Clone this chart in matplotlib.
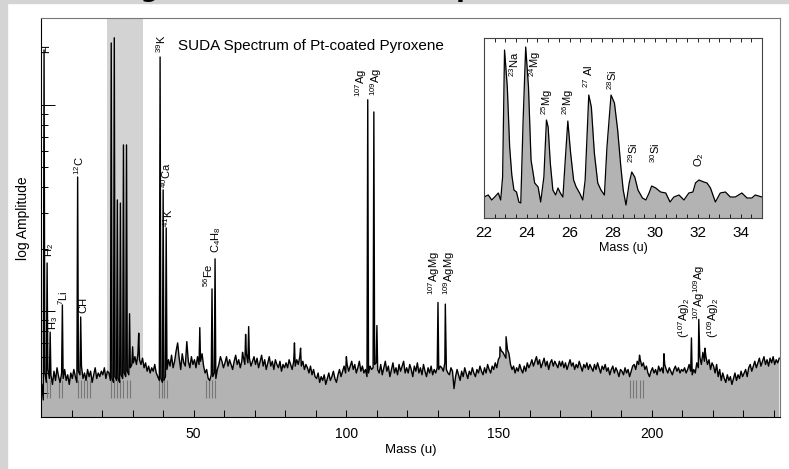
import numpy as np
import matplotlib
matplotlib.use("Agg")
import matplotlib.pyplot as plt
from matplotlib.patches import Rectangle

plt.rcParams['font.family'] = ['Liberation Sans', 'DejaVu Sans']
plt.rcParams['mathtext.fontset'] = 'custom'
plt.rcParams['mathtext.default'] = 'regular'

# noise floor of the spectrum, sampled every 0.5 u starting at 0.25 u
noise_mass = np.arange(0.25, 242.0, 0.5)
noise_amp = [
    0.44, 0.37, 0.50, 0.45, 0.52, 0.47, 0.49, 0.44, 0.51, 0.46, 0.53, 0.48, 0.45, 0.50, 0.47, 0.52, 0.46, 0.49, 0.44, 0.50,
    0.47, 0.52, 0.48, 0.45, 0.51, 0.49, 0.54, 0.47, 0.50, 0.46, 0.52, 0.48, 0.51, 0.45, 0.49, 0.53, 0.47, 0.50, 0.48, 0.51,
    0.49, 0.53, 0.47, 0.51, 0.50, 0.46, 0.47, 0.45, 0.48, 0.46, 0.47, 0.45, 0.49, 0.47, 0.50, 0.48, 0.51, 0.49, 0.53, 0.55,
    0.56, 0.60, 0.55, 0.62, 0.58, 0.55, 0.59, 0.53, 0.56, 0.51, 0.54, 0.50, 0.53, 0.51, 0.55, 0.50, 0.48, 0.46, 0.47, 0.45,
    0.46, 0.48, 0.52, 0.58, 0.54, 0.61, 0.53, 0.57, 0.64, 0.70, 0.59, 0.52, 0.62, 0.56, 0.54, 0.71, 0.57, 0.53, 0.60, 0.55,
    0.58, 0.53, 0.60, 0.55, 0.57, 0.62, 0.54, 0.50, 0.52, 0.47, 0.46, 0.49, 0.48, 0.50, 0.47, 0.52, 0.55, 0.60, 0.57, 0.53,
    0.56, 0.60, 0.54, 0.58, 0.55, 0.52, 0.57, 0.61, 0.55, 0.58, 0.53, 0.57, 0.60, 0.55, 0.62, 0.56, 0.59, 0.54, 0.57, 0.60,
    0.55, 0.59, 0.53, 0.57, 0.61, 0.54, 0.58, 0.52, 0.56, 0.60, 0.54, 0.57, 0.52, 0.58, 0.55, 0.53, 0.57, 0.51, 0.55, 0.53,
    0.56, 0.53, 0.58, 0.55, 0.52, 0.57, 0.54, 0.58, 0.55, 0.60, 0.54, 0.57, 0.52, 0.55, 0.53, 0.50, 0.54, 0.49, 0.52, 0.48,
    0.47, 0.50, 0.45, 0.48, 0.46, 0.49, 0.44, 0.47, 0.50, 0.46, 0.48, 0.51, 0.47, 0.45, 0.49, 0.52, 0.48, 0.51, 0.54, 0.50,
    0.55, 0.51, 0.54, 0.57, 0.52, 0.55, 0.50, 0.53, 0.57, 0.51, 0.54, 0.50, 0.52, 0.48, 0.50, 0.54, 0.52, 0.53, 0.55, 0.56,
    0.52, 0.50, 0.55, 0.49, 0.53, 0.57, 0.51, 0.54, 0.48, 0.52, 0.56, 0.50, 0.53, 0.49, 0.55, 0.51, 0.54, 0.57, 0.50, 0.53,
    0.50, 0.55, 0.52, 0.48, 0.54, 0.51, 0.56, 0.50, 0.53, 0.49, 0.55, 0.51, 0.48, 0.53, 0.50, 0.54, 0.49, 0.52, 0.50, 0.53,
    0.52, 0.54, 0.53, 0.51, 0.56, 0.52, 0.50, 0.49, 0.53, 0.51, 0.42, 0.48, 0.52, 0.49, 0.46, 0.51, 0.48, 0.53, 0.50, 0.47,
    0.51, 0.49, 0.53, 0.50, 0.48, 0.52, 0.50, 0.54, 0.51, 0.49, 0.53, 0.50, 0.55, 0.52, 0.50, 0.54, 0.52, 0.56, 0.53, 0.58,
    0.60, 0.64, 0.63, 0.61, 0.59, 0.65, 0.62, 0.55, 0.52, 0.54, 0.50, 0.53, 0.51, 0.55, 0.52, 0.50, 0.54, 0.51, 0.56, 0.53,
    0.55, 0.58, 0.54, 0.57, 0.60, 0.55, 0.58, 0.53, 0.56, 0.59, 0.54, 0.57, 0.52, 0.56, 0.58, 0.54, 0.57, 0.55, 0.53, 0.57,
    0.54, 0.57, 0.53, 0.56, 0.52, 0.55, 0.58, 0.54, 0.56, 0.52, 0.55, 0.53, 0.57, 0.54, 0.51, 0.55, 0.53, 0.56, 0.52, 0.55,
    0.53, 0.51, 0.55, 0.52, 0.56, 0.53, 0.50, 0.54, 0.52, 0.55, 0.51, 0.53, 0.49, 0.52, 0.54, 0.50, 0.53, 0.51, 0.48, 0.52,
    0.51, 0.49, 0.53, 0.50, 0.52, 0.48, 0.51, 0.54, 0.55, 0.52, 0.57, 0.55, 0.58, 0.54, 0.56, 0.52, 0.54, 0.50, 0.48, 0.51,
    0.53, 0.50, 0.52, 0.49, 0.54, 0.51, 0.53, 0.50, 0.55, 0.52, 0.50, 0.53, 0.51, 0.49, 0.52, 0.54, 0.51, 0.53, 0.50, 0.52,
    0.51, 0.53, 0.50, 0.52, 0.55, 0.51, 0.49, 0.52, 0.50, 0.56, 0.53, 0.60, 0.55, 0.63, 0.57, 0.60, 0.55, 0.58, 0.52, 0.56,
    0.54, 0.50, 0.55, 0.48, 0.52, 0.46, 0.50, 0.47, 0.45, 0.49, 0.46, 0.48, 0.44, 0.47, 0.50, 0.46, 0.49, 0.47, 0.51, 0.48,
    0.50, 0.52, 0.48, 0.53, 0.55, 0.51, 0.54, 0.57, 0.53, 0.56, 0.59, 0.54, 0.57, 0.60, 0.55, 0.58, 0.54, 0.59, 0.56, 0.60,
    0.55, 0.58, 0.56, 0.59,
]

# peaks (mass in u, amplitude)
peak_mass = [1, 2, 3, 7, 12, 13, 23, 24, 25, 26, 27, 28, 29, 30, 32,
             39, 40, 41, 52, 56, 57, 66, 67, 68, 83, 85, 100,
             107, 109, 110, 130, 132.4, 150.3, 152.3, 196, 204,
             213, 215.4, 217.4]
peak_amp = [18.5, 1.71, 0.79, 1.07, 4.47, 0.935, 20.0, 21.2, 3.46, 3.34, 6.4, 6.4, 0.97, 0.67, 0.78,
            17.1, 3.87, 2.53, 0.83, 1.28, 1.79, 0.63, 0.77, 0.84, 0.70, 0.66, 0.60,
            10.6, 9.25, 0.85, 1.10, 1.08, 0.67, 0.75, 0.61, 0.62,
            0.74, 0.91, 0.66]

# short grey markers near the bottom of the spectrum
marker_mass = [2, 3, 6, 7, 12, 13, 14, 15, 16, 23, 24, 25, 26, 27, 28, 29,
               38.7, 39.6, 40.4, 41.2, 54, 55, 56, 57, 193, 194, 195, 196, 197]

main_labels = ['H', 'H$_2$', 'H$_3$', '$^7$Li', '$^{12}$C', 'CH', '$^{39}$K', '$^{40}$Ca', '$^{41}$K',
               '$^{56}$Fe', 'C$_4$H$_8$', '$^{107}$Ag', '$^{109}$Ag', '$^{107}$AgMg', '$^{109}$AgMg',
               '($^{107}$Ag)$_2$', '$^{107}$Ag$^{109}$Ag', '($^{109}$Ag)$_2$']
main_label_x = [1.8, 2.6, 3.8, 7.3, 12.5, 13.8, 39.2, 41.1, 41.6, 54.7, 57.2, 104.8, 109.7,
                128.7, 133.7, 210.6, 215.5, 220.0]
main_label_y = [17.9, 1.83, 0.81, 1.07, 4.57, 0.98, 17.9, 3.95, 2.56, 1.31, 1.91, 10.9, 11.1,
                1.2, 1.2, 0.74, 0.90, 0.74]

# inset: zoom on 22-35 u (linear amplitude, arbitrary units)
inset_mass = [22.0, 22.2, 22.36, 22.5, 22.67, 22.78, 22.87, 22.96, 23.09, 23.2, 23.3, 23.4, 23.52,
              23.63, 23.72, 23.83, 23.95, 24.08, 24.2, 24.37, 24.53, 24.65, 24.8, 24.92, 25.0,
              25.1, 25.22, 25.35, 25.46, 25.57, 25.69, 25.8, 25.92, 26.05, 26.19, 26.31, 26.47,
              26.62, 26.73, 26.9, 27.02, 27.16, 27.32, 27.47, 27.63, 27.75, 27.94, 28.1, 28.25,
              28.4, 28.51, 28.64, 28.79, 28.91, 29.05, 29.2, 29.41, 29.57, 29.72, 29.84, 30.03,
              30.26, 30.5, 30.7, 30.88, 31.12, 31.35, 31.58, 31.77, 31.89, 32.05, 32.28, 32.43,
              32.59, 32.82, 33.05, 33.29, 33.52, 33.75, 34.06, 34.3, 34.53, 34.68, 35.0]
inset_amp = [21, 23, 18, 21, 25, 18, 41, 168, 131, 71, 43, 28, 26,
             16, 15, 98, 171, 131, 58, 35, 31, 16, 41, 98, 91,
             55, 28, 23, 30, 25, 21, 58, 97, 65, 38, 31, 25,
             18, 38, 123, 111, 65, 35, 28, 23, 71, 123, 115, 88,
             51, 28, 13, 35, 46, 41, 28, 20, 18, 25, 32, 30,
             26, 25, 16, 21, 23, 18, 25, 26, 35, 38, 36, 35,
             30, 16, 25, 26, 21, 21, 25, 20, 20, 23, 21]

inset_labels = ['$^{23}$Na', '$^{24}$Mg', '$^{25}$Mg', '$^{26}$Mg', '$^{27}$ Al', '$^{28}$Si',
                '$^{29}$Si', '$^{30}$Si', 'O$_2$']
inset_label_x = [23.42, 24.38, 24.95, 25.95, 26.85, 28.0, 28.98, 29.98, 32.05]
inset_label_y = [141, 141, 103, 103, 130, 128, 55, 55, 51]

W, H = 789, 469
fig = plt.figure(figsize=(W / 100, H / 100), dpi=100, facecolor='white')

# light grey page border (left and top)
fig.patches.append(Rectangle((0, 0), 7 / W, 1, transform=fig.transFigure, color='#d4d4d4', zorder=0))
fig.patches.append(Rectangle((0, 1 - 3 / H), 1, 3 / H, transform=fig.transFigure, color='#d4d4d4', zorder=0))
# heading of the page, cut off at the top edge
fig.text(113 / W, 1 + 3 / H, 'Big Dust Particle Mass Spectrum', fontsize=18, fontweight='bold',
         family='DejaVu Sans', ha='left', va='baseline')

ax = fig.add_axes([41 / W, 1 - 417 / H, 739 / W, 399 / H])
m = np.concatenate([noise_mass, peak_mass])
a = np.concatenate([noise_amp, peak_amp])
order = np.argsort(m)
m, a = m[order], a[order]

ax.axvspan(21.5, 33.5, color='#d3d3d3', lw=0, zorder=0)
ax.fill_between(m, 0.1, a, color='#b3b3b3', lw=0, zorder=1)
ax.vlines(marker_mass, 0.378, 0.46, color='#777777', lw=0.8, zorder=2)
ax.plot(m, a, color='black', lw=1.0, zorder=3)

ax.set_yscale('log')
ax.set_xlim(0, 242)
ax.set_ylim(0.3057, 26.44)
ax.set_xticks([50, 100, 150, 200])
ax.set_xticks(np.arange(10, 241, 10), minor=True)
ax.set_yticks([1, 10])
ax.set_yticks([0.4, 0.5, 0.6, 0.7, 0.8, 0.9, 2, 3, 4, 5, 6, 7, 8, 9], minor=True)
ax.yaxis.set_ticklabels([])
ax.yaxis.set_minor_formatter(plt.NullFormatter())
ax.tick_params(axis='x', which='both', direction='in', length=5, width=0.7, labelsize=10, pad=7)
ax.tick_params(axis='y', which='major', direction='in', length=10, width=0.7)
ax.tick_params(axis='y', which='minor', direction='in', length=5, width=0.7)
for side in ['top', 'right']:
    ax.spines[side].set_color('#777777')
for side in ['left', 'bottom']:
    ax.spines[side].set_color('black')
for sp in ax.spines.values():
    sp.set_linewidth(0.8)
ax.set_xlabel('Mass (u)', fontsize=9.5, labelpad=2)
fig.text(23 / W, 1 - 218 / H, 'log Amplitude', rotation=90, ha='center', va='center', fontsize=10)

for txt, lx, ly in zip(main_labels, main_label_x, main_label_y):
    ax.text(lx, ly, txt, rotation=90, ha='center', va='bottom', fontsize=8, zorder=4)

fig.text(178 / W, 1 - 46 / H, 'SUDA Spectrum of Pt-coated Pyroxene', fontsize=11, ha='left', va='center')

# inset
ax2 = fig.add_axes([484 / W, 1 - 218 / H, 278 / W, 180 / H])
ax2.fill_between(inset_mass, 0, inset_amp, color='#b3b3b3', lw=0)
ax2.plot(inset_mass, inset_amp, color='black', lw=0.9)
ax2.set_xlim(22, 35)
ax2.set_ylim(0, 180)
ax2.set_yticks([])
ax2.set_xticks(np.arange(22, 35, 2))
ax2.set_xticks(np.arange(22, 35.01, 0.5), minor=True)
ax2.tick_params(axis='x', which='both', direction='in', top=True, length=3, width=0.6,
                labelsize=11, pad=6)
for sp in ax2.spines.values():
    sp.set_color('#444444')
    sp.set_linewidth(0.8)
ax2.set_xlabel('Mass (u)', fontsize=9, labelpad=1)
for txt, lx, ly in zip(inset_labels, inset_label_x, inset_label_y):
    ax2.text(lx, ly, txt, rotation=90, ha='center', va='bottom', fontsize=8)

fig.savefig('out.png', dpi=100, facecolor='white')
